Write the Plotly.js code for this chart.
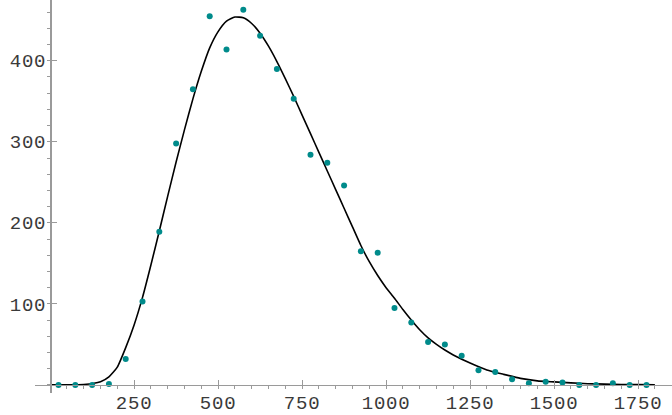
<!DOCTYPE html>
<html>
<head>
<meta charset="utf-8">
<script src="https://cdn.plot.ly/plotly-3.0.1.min.js"></script>
<style>
  html, body { margin: 0; padding: 0; background: white; }
  #chart { width: 672px; height: 415px; }
  .xtick text, .ytick text { letter-spacing: 0.8px; }
</style>
</head>
<body>
<div id="chart"></div>
<script>
// observed counts (points)
const binX = [25, 75, 125, 175, 225, 275, 325, 375, 425, 475, 525, 575, 625, 675, 725, 775, 825, 875,
              925, 975, 1025, 1075, 1125, 1175, 1225, 1275, 1325, 1375, 1425, 1475, 1525, 1575, 1625, 1675, 1725, 1775];
const counts = [0, 0, 0, 1, 32, 103, 189, 298, 365, 455, 414, 463, 431, 390, 353, 284, 274, 246,
                165, 163, 95, 77, 53, 50, 36, 18, 16, 7, 2, 4, 3, 0, 0, 2, 0, 0];

// fitted curve
const fitX = [0, 50, 100, 150, 175, 200, 225, 250, 275, 300, 325, 350, 375, 400, 425, 450, 475, 500,
              525, 550, 575, 600, 625, 650, 675, 700, 725, 750, 775, 800, 825, 850, 875, 900, 925, 950,
              975, 1000, 1025, 1050, 1075, 1100, 1125, 1150, 1175, 1200, 1250, 1300, 1350, 1400, 1450,
              1500, 1550, 1600, 1650, 1700, 1750, 1800];
const fitY = [0, 0, 0.5, 4, 10, 22, 46, 74, 108, 148, 190, 233, 275, 315, 353, 387, 416, 436,
              449, 454, 453, 446, 434, 418, 399, 378, 356, 333, 310, 287, 264, 241, 218, 195, 172, 152,
              135, 120, 107, 93, 80, 68, 58, 50, 43, 37, 27, 18.5, 13, 8, 5,
              3.7, 2.5, 1.5, 1, 0.5, 0.3, 0.1];

// tick labels
const xTicks = [250, 500, 750, 1000, 1250, 1500, 1750];
const yTicks = [100, 200, 300, 400];

const xRange = [-45, 1851];
const yRange = [-10, 475];

const tickFont = { family: 'Liberation Mono, DejaVu Sans Mono, monospace', size: 19, color: '#3a3a3a' };
const axisGray = '#9a9a9a';

const curve = {
    x: fitX,
    y: fitY,
    type: 'scatter',
    mode: 'lines',
    line: { color: 'black', width: 1.6, shape: 'spline', smoothing: 0.5 },
    hoverinfo: 'skip'
};

const points = {
    x: binX,
    y: counts,
    type: 'scatter',
    mode: 'markers',
    marker: { color: '#008b8b', size: 6 }
};

const layout = {
    width: 672,
    height: 415,
    margin: { l: 35, r: 0, t: 0, b: 22 },
    showlegend: false,
    plot_bgcolor: 'white',
    paper_bgcolor: 'white',
    xaxis: {
        range: xRange,
        anchor: 'free',
        position: -yRange[0] / (yRange[1] - yRange[0]),
        showgrid: false,
        zeroline: false,
        showline: true,
        linecolor: axisGray,
        linewidth: 1.5,
        ticks: 'inside',
        ticklen: 5,
        tickwidth: 1,
        tickcolor: axisGray,
        tickmode: 'array',
        tickvals: xTicks,
        ticktext: xTicks.map(String),
        tickfont: tickFont,
        minor: { tickmode: 'linear', tick0: 0, dtick: 50, ticklen: 3, tickcolor: axisGray, showgrid: false }
    },
    yaxis: {
        range: yRange,
        anchor: 'free',
        position: -xRange[0] / (xRange[1] - xRange[0]),
        showgrid: false,
        zeroline: false,
        showline: true,
        linecolor: axisGray,
        linewidth: 1.5,
        ticks: 'inside',
        ticklen: 5,
        tickwidth: 1,
        tickcolor: axisGray,
        tickmode: 'array',
        tickvals: yTicks,
        ticktext: yTicks.map(String),
        tickfont: tickFont,
        minor: { tickmode: 'linear', tick0: 0, dtick: 20, ticklen: 3, tickcolor: axisGray, showgrid: false }
    }
};

Plotly.newPlot('chart', [curve, points], layout, { displayModeBar: false, staticPlot: true });
</script>
</body>
</html>
